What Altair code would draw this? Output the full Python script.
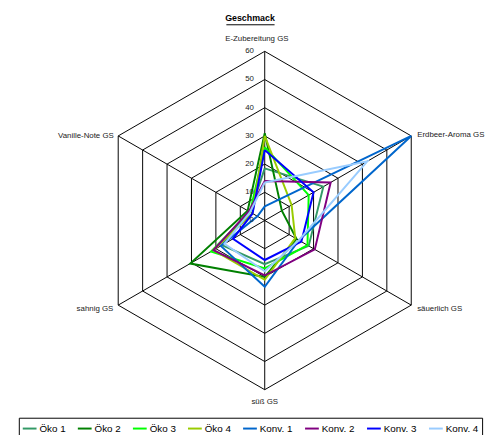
import altair as alt
import pandas as pd

TITLE = "Geschmack"
CATEGORIES = ["E-Zubereitung GS", "Erdbeer-Aroma GS", "säuerlich GS",
              "süß GS", "sahnig GS", "Vanille-Note GS"]
SERIES = ["Öko 1", "Öko 2", "Öko 3", "Öko 4", "Konv. 1", "Konv. 2", "Konv. 3", "Konv. 4"]
COLORS = ["#339966", "#008000", "#00FF00", "#99CC00",
          "#0066CC", "#800080", "#0000FF", "#99CCFF"]

# values in category order: E-Zubereitung, Erdbeer-Aroma, säuerlich, süß, sahnig, Vanille-Note
OKO_1 = [18.5, 24, 18, 15.5, 17.5, 6]
OKO_2 = [31, 7, 13, 20, 30.5, 7]
OKO_3 = [26, 18, 17.5, 17, 22, 6]
OKO_4 = [30, 11, 12.5, 21, 21, 5]
KONV_1 = [5, 60, 14, 23.5, 18, 3]
KONV_2 = [14, 27, 20.5, 19.5, 21, 6.5]
KONV_3 = [25, 20, 15, 14, 13, 5]
KONV_4 = [13.5, 42, 14, 18, 16.5, 6]
VALUES = [OKO_1, OKO_2, OKO_3, OKO_4, KONV_1, KONV_2, KONV_3, KONV_4]

TICKS = [0, 10, 20, 30, 40, 50, 60]
RMAX = 60

FONT = "Liberation Sans"
W, H = 489, 427
K = 172 / 60.0  # px per unit
CX, CY = 261, 212.5
xs = alt.Scale(domain=[-CX / K, (W - CX) / K], nice=False, zero=False)
ys = alt.Scale(domain=[-(H - CY) / K, CY / K], nice=False, zero=False)

n = len(CATEGORIES)

rows = []
for s, vals in zip(SERIES, VALUES):
    for i in range(n + 1):
        rows.append({"series": s, "idx": i, "value": vals[i % n]})
series_df = pd.DataFrame(rows)

ring_df = pd.DataFrame([{"ring": t, "idx": i, "value": t}
                        for t in TICKS[1:] for i in range(n + 1)])
spoke_df = pd.DataFrame([{"idx": i, "value": RMAX} for i in range(n)])
tick_df = pd.DataFrame([{"idx": 0, "value": t, "label": str(t)} for t in TICKS])
label_df = pd.DataFrame([{"idx": i, "value": RMAX, "name": c} for i, c in enumerate(CATEGORIES)])

PX = "datum.value * cos(PI / 2 - datum.idx * PI / 3)"
PY = "datum.value * sin(PI / 2 - datum.idx * PI / 3)"


def polar(ch):
    return ch.transform_calculate(px=PX, py=PY)


X = alt.X("px:Q", scale=xs, axis=None)
Y = alt.Y("py:Q", scale=ys, axis=None)

rings = polar(alt.Chart(ring_df).mark_line(color="black", strokeWidth=1)).encode(
    x=X, y=Y, detail="ring:N", order="idx:Q")

spokes = polar(alt.Chart(spoke_df).mark_rule(color="black", strokeWidth=1)).transform_calculate(
    zero="0").encode(
    x=alt.X("zero:Q", scale=xs, axis=None), y=alt.Y("zero:Q", scale=ys, axis=None),
    x2="px:Q", y2="py:Q")

lines = polar(alt.Chart(series_df).mark_line(strokeWidth=2)).encode(
    x=X, y=Y, order="idx:Q",
    color=alt.Color("series:N", scale=alt.Scale(domain=SERIES, range=COLORS),
                    legend=alt.Legend(title=None, orient="none", legendX=11, legendY=413,
                                      direction="horizontal", columns=8,
                                      symbolType="stroke", symbolSize=196,
                                      symbolStrokeWidth=2, labelFontSize=10,
                                      labelFont=FONT, labelColor="black",
                                      labelOffset=2, columnPadding=8, padding=3,
                                      strokeColor="black", fillColor="white")))

ticks = polar(alt.Chart(tick_df).mark_text(align="right", baseline="middle", dx=-11,
                                           fontSize=8, font=FONT, color="#222")).encode(
    x=X, y=Y, text="label:N")

label_style = {
    "E-Zubereitung GS": dict(align="center", dx=-8, dy=-13),
    "Erdbeer-Aroma GS": dict(align="left", dx=6, dy=-1),
    "säuerlich GS": dict(align="left", dx=6, dy=4),
    "süß GS": dict(align="center", dx=0, dy=12.5),
    "sahnig GS": dict(align="right", dx=-5, dy=4),
    "Vanille-Note GS": dict(align="right", dx=-4.5, dy=0),
}
label_layers = []
for c in CATEGORIES:
    st = label_style[c]
    label_layers.append(
        polar(alt.Chart(label_df).transform_filter(alt.datum.name == c).mark_text(
            baseline="middle", fontSize=8, font=FONT, color="#222", **st)).encode(
            x=X, y=Y, text="name:N"))

title_df = pd.DataFrame({"t": [TITLE]})
title = alt.Chart(title_df).mark_text(align="center", baseline="middle", fontSize=9,
                                      fontWeight="bold", font=FONT, color="black").encode(
    x=alt.value(246), y=alt.value(7), text="t:N")
underline = alt.Chart(title_df).mark_rule(color="black", strokeWidth=1).encode(
    x=alt.value(222), x2=alt.value(271), y=alt.value(13.5))

chart = alt.layer(rings, spokes, lines, ticks, *label_layers, title, underline).properties(
    width=W, height=H, padding={"left": 0, "top": 0, "right": 0, "bottom": 0},
    autosize=alt.AutoSizeParams(type="none"),
).configure_view(stroke=None)

chart.save("out.html", embed_options={"renderer": "svg", "actions": False})
